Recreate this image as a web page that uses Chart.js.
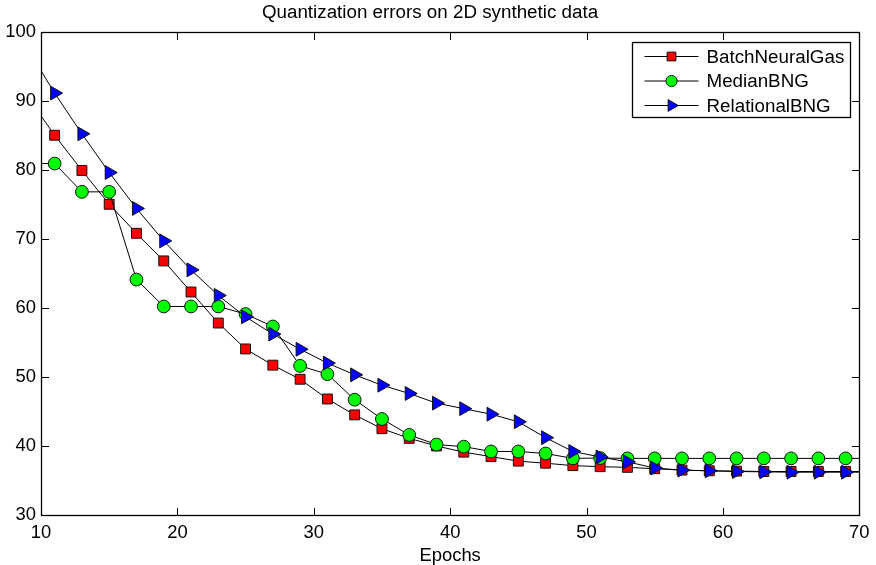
<!DOCTYPE html>
<html><head><meta charset="utf-8">
<script src="https://cdn.jsdelivr.net/npm/chart.js@4.4.0/dist/chart.umd.min.js"></script>
<style>html,body{margin:0;padding:0;background:#fff}#wrap{width:876px;height:565px;position:relative}</style>
</head><body><div id="wrap"><canvas id="c"></canvas></div>
<script>
const epochs = [10, 11, 13, 15, 17, 19, 21, 23, 25, 27, 29, 31, 33, 35, 37, 39, 41, 43, 45, 47, 49, 51, 53, 55, 57, 59, 61, 63, 65, 67, 69, 70];
const batchNeuralGas = [87.8, 85.0, 79.9, 75.0, 70.8, 66.8, 62.3, 57.8, 54.05, 51.7, 49.66, 46.8, 44.5, 42.5, 41.1, 40.0, 39.1, 38.45, 37.8, 37.5, 37.15, 37.0, 36.9, 36.7, 36.5, 36.4, 36.35, 36.3, 36.3, 36.3, 36.3, 36.3];
const medianBNG = [80.9, 80.9, 76.8, 76.8, 64.1, 60.2, 60.2, 60.2, 59.1, 57.3, 51.6, 50.4, 46.7, 43.9, 41.6, 40.2, 39.9, 39.2, 39.2, 38.9, 38.2, 38.25, 38.2, 38.2, 38.2, 38.2, 38.2, 38.2, 38.2, 38.2, 38.2, 38.2];
const relationalBNG = [94.35, 91.1, 85.2, 79.6, 74.4, 69.7, 65.5, 61.8, 58.7, 56.2, 54.0, 52.0, 50.3, 48.8, 47.6, 46.2, 45.4, 44.6, 43.5, 41.2, 39.2, 38.4, 37.7, 36.8, 36.5, 36.4, 36.3, 36.25, 36.2, 36.2, 36.2, 36.2];
const seriesNames = ['BatchNeuralGas', 'MedianBNG', 'RelationalBNG'];
const xTicks = [10, 20, 30, 40, 50, 60, 70];
const yTicks = [30, 40, 50, 60, 70, 80, 90, 100];
const titleText = 'Quantization errors on 2D synthetic data';
const xTitle = 'Epochs';

const FONT = '"Liberation Sans", Arial, Helvetica, sans-serif';
Chart.defaults.color = '#000';
Chart.defaults.font.family = FONT;

const styles = [
  {fill: '#ff0000', pointStyle: 'rect', radius: 7.0, rotation: 0, legendRadius: 6.2},
  {fill: '#00ff00', pointStyle: 'circle', radius: 6.4, rotation: 0, legendRadius: 5.6},
  {fill: '#0000ff', pointStyle: 'triangle', radius: 8.0, rotation: 90, legendRadius: 6.8}
];
const values = [batchNeuralGas, medianBNG, relationalBNG];

const markerAt = r => ctx => (epochs[ctx.dataIndex] % 2 === 1 ? r : 0);

const datasets = values.map((vals, i) => ({
  label: seriesNames[i],
  data: epochs.map((e, j) => ({x: e, y: vals[j]})),
  borderColor: '#000',
  borderWidth: 1,
  backgroundColor: styles[i].fill,
  pointBackgroundColor: styles[i].fill,
  pointBorderColor: '#111',
  pointBorderWidth: 1,
  pointStyle: styles[i].pointStyle,
  pointRotation: styles[i].rotation,
  pointRadius: markerAt(styles[i].radius),
  pointHoverRadius: markerAt(styles[i].radius),
  tension: 0,
  fill: false,
  order: 3 - i
}));

const framePlugin = {
  id: 'frame',
  afterDatasetsDraw(chart) {
    const {ctx, chartArea: a, scales: {x, y}} = chart;
    const L = 7.5;
    const l = Math.round(a.left) + 0.5, r = Math.round(a.right) + 0.5;
    const t = Math.round(a.top) + 0.5, b = Math.round(a.bottom) + 0.5;
    ctx.save();
    ctx.strokeStyle = '#000';
    ctx.lineWidth = 1;
    ctx.beginPath();
    x.ticks.forEach(tk => {
      const p = Math.round(x.getPixelForValue(tk.value)) + 0.5;
      if (p <= l + 1 || p >= r - 1) return;
      ctx.moveTo(p, b); ctx.lineTo(p, b - L);
      ctx.moveTo(p, t); ctx.lineTo(p, t + L);
    });
    y.ticks.forEach(tk => {
      const p = Math.round(y.getPixelForValue(tk.value)) + 0.5;
      if (p <= t + 1 || p >= b - 1) return;
      ctx.moveTo(l, p); ctx.lineTo(l + L, p);
      ctx.moveTo(r, p); ctx.lineTo(r - L, p);
    });
    ctx.stroke();
    ctx.lineWidth = 1.3;
    ctx.strokeRect(l, t, r - l, b - t);
    ctx.restore();
  }
};

const legendPlugin = {
  id: 'mlegend',
  afterDraw(chart) {
    const {ctx, chartArea: a} = chart;
    const w = 218, h = 75;
    const bx = Math.round(a.right - 9 - w) + 0.5, by = Math.round(a.top + 10) + 0.5;
    ctx.save();
    ctx.fillStyle = '#fff';
    ctx.fillRect(bx, by, w, h);
    ctx.strokeStyle = '#000';
    ctx.lineWidth = 1.3;
    ctx.strokeRect(bx, by, w, h);
    const rows = [14, 38.5, 63];
    chart.data.datasets.forEach((ds, i) => {
      const yy = by + rows[i];
      ctx.beginPath();
      ctx.strokeStyle = '#000';
      ctx.lineWidth = 1;
      ctx.moveTo(bx + 12, yy); ctx.lineTo(bx + 66, yy);
      ctx.stroke();
      ctx.fillStyle = styles[i].fill;
      ctx.strokeStyle = '#111';
      ctx.lineWidth = 1;
      Chart.helpers.drawPoint(ctx, {pointStyle: styles[i].pointStyle, radius: styles[i].legendRadius, rotation: styles[i].rotation, borderWidth: 1}, bx + 39, yy);
      ctx.fillStyle = '#000';
      ctx.font = '18.8px ' + FONT;
      ctx.textAlign = 'left';
      ctx.textBaseline = 'middle';
      ctx.fillText(ds.label, bx + 74, yy + 1);
    });
    ctx.restore();
  }
};

new Chart(document.getElementById('c'), {
  type: 'line',
  data: {datasets},
  options: {
    responsive: true,
    maintainAspectRatio: false,
    animation: false,
    events: [],
    layout: {padding: {left: 0, right: 16, top: 0, bottom: 0}},
    plugins: {
      legend: {display: false},
      tooltip: {enabled: false},
      title: {
        display: true,
        text: titleText,
        color: '#000',
        font: {size: 18.8, weight: 'normal', family: FONT, lineHeight: 1.2},
        padding: {top: 2, bottom: 7.1}
      }
    },
    scales: {
      x: {
        type: 'linear',
        min: 10, max: 70,
        afterBuildTicks: s => { s.ticks = xTicks.map(v => ({value: v})); },
        afterFit: s => { s.height = 50; },
        grid: {display: false, drawTicks: false},
        border: {display: false},
        ticks: {padding: 6.5, font: {size: 18.4, family: FONT}, color: '#000', maxRotation: 0, autoSkip: false},
        title: {display: true, text: xTitle, color: '#000', font: {size: 18.4, family: FONT, lineHeight: 1.2}, padding: {top: 0, bottom: -2}}
      },
      y: {
        type: 'linear',
        min: 30, max: 100,
        afterBuildTicks: s => { s.ticks = yTicks.map(v => ({value: v})); },
        afterFit: s => { s.width = 41; },
        grid: {display: false, drawTicks: false},
        border: {display: false},
        ticks: {padding: 5, font: {size: 18.4, family: FONT}, color: '#000', autoSkip: false}
      }
    }
  },
  plugins: [framePlugin, legendPlugin]
});
</script>
</body></html>
